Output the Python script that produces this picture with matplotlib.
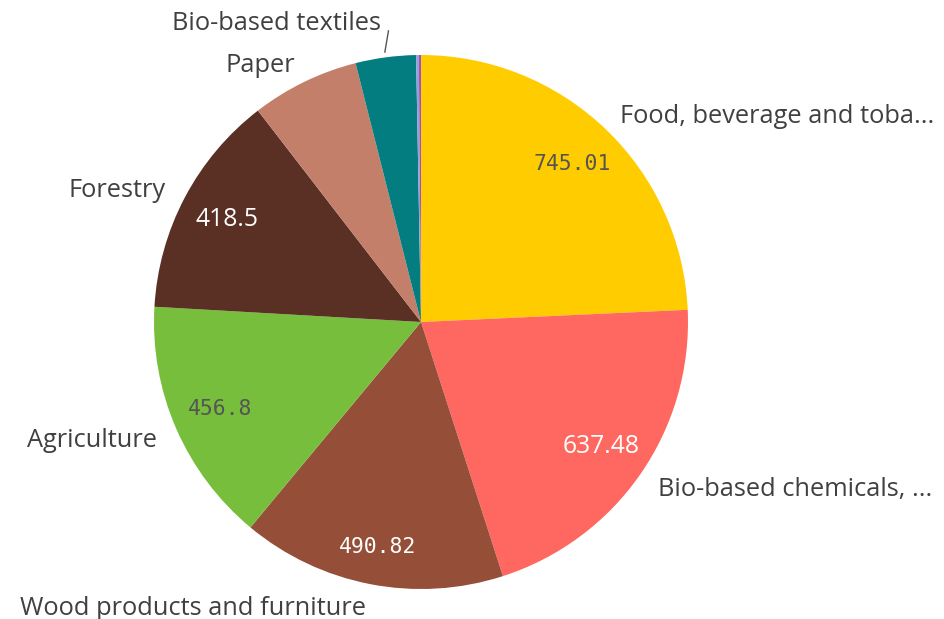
import numpy as np
import matplotlib
matplotlib.use("Agg")
import matplotlib.pyplot as plt

categories = ["Food, beverage and toba...", "Bio-based chemicals, ...",
              "Wood products and furniture", "Agriculture", "Forestry",
              "Paper", "Bio-based textiles", "", ""]
values = [745.01, 637.48, 490.82, 456.8, 418.5, 200.0, 112.0, 5.0, 4.0]
value_labels = ["745.01", "637.48", "490.82", "456.8", "418.5", "", "", "", ""]
colors = ["#ffcc00", "#ff6860", "#954e38", "#76be3c", "#5a3025",
          "#c47f6a", "#047d80", "#8fa2d8", "#a24fc2"]
value_colors = ["#555555", "white", "white", "#555555", "white"]
value_mono = [True, False, True, True, False]
value_dist = [0.82, 0.82, 0.86, 0.82, 0.82]

W, H = 945, 619
cx, cy, R = 421, 322, 267

fig = plt.figure(figsize=(W / 100, H / 100), dpi=100)
ax = fig.add_axes([(cx - R) / W, (H - cy - R) / H, 2 * R / W, 2 * R / H])

wedges, _ = ax.pie(values, colors=colors, startangle=90, counterclock=False,
                   wedgeprops=dict(linewidth=0))
ax.set_xlim(-1, 1)
ax.set_ylim(-1, 1)
ax.set_aspect("auto")
ax.axis("off")

label_font = "Open Sans"
for i, w in enumerate(wedges):
    mid = np.deg2rad((w.theta1 + w.theta2) / 2)
    dx, dy = np.cos(mid), np.sin(mid)
    if categories[i]:
        r = 1.08
        if categories[i] == "Bio-based textiles":
            r = 1.14
            # short leader line up to the label
            ax.plot([1.02 * dx, 1.1 * dx + 0.024], [1.02 * dy, 1.1 * dy],
                    color="#555555", lw=1, clip_on=False)
        ha = "left" if dx > 0 else "right"
        ax.text(r * dx, r * dy - 0.012, categories[i], ha=ha, va="center",
                fontsize=18.3, color="#404040", family=label_font, clip_on=False)
    if value_labels[i]:
        if value_mono[i]:
            fam, fs = "DejaVu Sans Mono", 15.4
        else:
            fam, fs = label_font, 17.8
        d = value_dist[i]
        ax.text(d * dx, d * dy, value_labels[i], ha="center", va="center",
                fontsize=fs, color=value_colors[i], family=fam)

fig.savefig("out.png", dpi=100)
